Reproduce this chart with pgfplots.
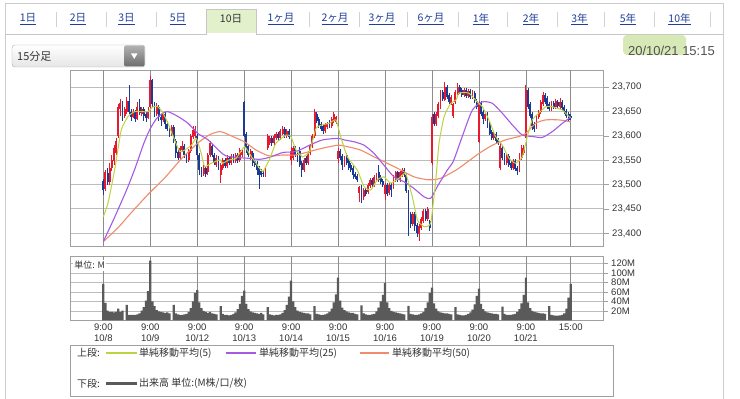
\documentclass[border=0pt]{standalone}
\usepackage{pgfplots}
\pgfplotsset{compat=1.18}
\usepackage{pgfplotstable}
\usepackage{fontspec}
\setmainfont{Liberation Sans}
\newfontfamily\jp{Noto Sans CJK JP}

\definecolor{upred}{HTML}{E8192C}
\definecolor{dnblue}{HTML}{1B3A93}
\definecolor{maA}{HTML}{BCD442}
\definecolor{maB}{HTML}{A659E6}
\definecolor{maC}{HTML}{F08C6C}
\definecolor{volgray}{HTML}{5A5A5A}
\definecolor{hgrid}{HTML}{BDBDBD}
\definecolor{vgrid}{HTML}{8C8C8C}
\definecolor{framec}{HTML}{A0A0A0}
\definecolor{linkblue}{HTML}{1F3F99}
\definecolor{txt}{HTML}{333333}
\definecolor{hl}{HTML}{D6E9B6}

% x = 22*day + slot ; o h l c ; v = volume (M)
\pgfplotstableread{
x o h l c v
0 23508 23512 23478 23490 77
1 23492 23530 23486 23525 37
2 23525 23535 23500 23505 21
3 23505 23545 23500 23535 18
4 23535 23560 23528 23550 18
5 23548 23582 23540 23575 17
6 23565 23595 23560 23590 18
7 23600 23665 23595 23660 25
8 23655 23675 23640 23668 18
9 23668 23672 23630 23640 21
10 23640 23660 23636 23655 0
11 23650 23680 23645 23672 33
12 23672 23705 23645 23650 12
13 23650 23655 23630 23640 12
14 23640 23656 23636 23650 12
15 23650 23654 23628 23635 12
16 23635 23670 23632 23660 13
17 23660 23675 23644 23648 15
18 23645 23660 23640 23655 21
19 23655 23660 23630 23640 28
20 23645 23650 23628 23638 42
21 23638 23660 23634 23652 62
22 23660 23724 23655 23715 126
23 23715 23718 23660 23665 40
24 23665 23670 23638 23645 30
25 23645 23668 23640 23660 22
26 23660 23664 23630 23640 19
27 23640 23645 23620 23632 18
28 23632 23650 23628 23645 17
29 23645 23650 23615 23625 16
30 23625 23630 23610 23615 17
31 23615 23620 23598 23605 15
32 23605 23622 23600 23618 0
33 23618 23622 23585 23590 33
34 23590 23594 23555 23565 15
35 23568 23572 23550 23555 13
36 23555 23580 23550 23575 12
37 23572 23590 23568 23580 12
38 23580 23584 23555 23560 13
39 23560 23565 23545 23550 14
40 23550 23574 23546 23570 18
41 23570 23604 23566 23600 26
42 23598 23620 23594 23612 40
43 23600 23620 23596 23615 58
44 23600 23605 23550 23560 64
45 23560 23564 23520 23530 38
46 23532 23536 23516 23525 26
47 23522 23540 23518 23535 20
48 23535 23539 23515 23522 18
49 23525 23564 23520 23560 16
50 23560 23590 23556 23585 18
51 23580 23584 23556 23560 15
52 23560 23564 23540 23545 14
53 23540 23560 23536 23555 13
54 23555 23559 23530 23535 0
55 23520 23545 23503 23540 30
56 23535 23555 23530 23550 14
57 23550 23554 23534 23538 12
58 23538 23560 23534 23555 12
59 23555 23559 23540 23545 11
60 23545 23562 23540 23558 12
61 23558 23562 23544 23548 14
62 23548 23565 23544 23560 17
63 23560 23564 23545 23550 24
64 23550 23576 23546 23572 35
65 23560 23572 23556 23568 52
66 23670 23672 23598 23600 63
67 23605 23609 23565 23575 35
68 23580 23584 23556 23560 24
69 23555 23574 23551 23570 19
70 23565 23569 23538 23545 17
71 23548 23552 23536 23540 16
72 23545 23549 23520 23530 15
73 23535 23539 23492 23520 14
74 23528 23532 23516 23520 16
75 23525 23529 23515 23522 13
76 23520 23535 23515 23530 0
77 23575 23605 23571 23600 28
78 23585 23599 23581 23595 13
79 23595 23599 23580 23585 12
80 23585 23604 23581 23600 11
81 23595 23609 23591 23605 12
82 23605 23609 23590 23595 12
83 23595 23614 23591 23610 13
84 23605 23620 23601 23615 16
85 23615 23619 23596 23600 22
86 23600 23614 23596 23610 33
87 23610 23614 23594 23598 50
88 23550 23578 23540 23570 84
89 23555 23579 23551 23575 40
90 23575 23579 23556 23560 28
91 23565 23569 23546 23550 21
92 23570 23578 23536 23540 18
93 23545 23549 23516 23530 17
94 23530 23554 23526 23550 16
95 23555 23559 23541 23545 15
96 23545 23569 23541 23565 15
97 23565 23584 23561 23580 13
98 23580 23604 23576 23600 0
99 23600 23655 23596 23650 30
100 23645 23649 23626 23630 14
101 23635 23639 23616 23620 13
102 23625 23629 23611 23615 12
103 23620 23624 23605 23610 12
104 23610 23626 23606 23622 13
105 23618 23629 23614 23625 15
106 23628 23632 23616 23620 18
107 23620 23639 23616 23635 25
108 23630 23650 23626 23645 38
109 23628 23642 23624 23638 55
110 23552 23575 23545 23570 90
111 23570 23574 23551 23555 42
112 23558 23562 23530 23540 27
113 23540 23559 23536 23555 22
114 23560 23565 23541 23545 19
115 23548 23552 23531 23535 17
116 23540 23544 23526 23530 16
117 23535 23539 23512 23520 16
118 23522 23526 23511 23515 14
119 23518 23522 23506 23510 13
120 23482 23498 23465 23495 0
121 23495 23499 23462 23475 32
122 23475 23494 23468 23490 15
123 23490 23494 23476 23480 13
124 23485 23504 23481 23500 12
125 23498 23514 23494 23510 12
126 23510 23514 23496 23500 13
127 23500 23519 23496 23515 14
128 23510 23524 23506 23520 19
129 23525 23540 23506 23510 27
130 23515 23519 23501 23505 40
131 23508 23512 23496 23500 54
132 23480 23504 23468 23500 79
133 23500 23504 23476 23480 38
134 23482 23504 23478 23500 26
135 23500 23504 23475 23490 20
136 23495 23519 23491 23515 18
137 23510 23529 23506 23525 17
138 23525 23529 23506 23510 16
139 23510 23529 23506 23525 15
140 23520 23535 23516 23530 14
141 23530 23534 23516 23520 13
142 23520 23524 23482 23488 0
143 23485 23488 23395 23430 31
144 23440 23444 23410 23420 14
145 23420 23444 23416 23440 13
146 23440 23444 23405 23415 12
147 23418 23422 23392 23400 12
148 23398 23419 23385 23415 13
149 23410 23434 23406 23430 15
150 23425 23449 23421 23445 18
151 23445 23449 23426 23430 26
152 23430 23455 23426 23450 38
153 23425 23428 23405 23412 58
154 23545 23645 23540 23640 69
155 23645 23649 23621 23625 36
156 23625 23649 23621 23645 25
157 23640 23669 23636 23665 19
158 23660 23694 23656 23690 17
159 23690 23694 23671 23675 16
160 23675 23710 23671 23700 15
161 23700 23704 23676 23680 15
162 23685 23689 23666 23670 14
163 23668 23684 23664 23680 13
164 23640 23668 23636 23665 0
165 23670 23694 23666 23690 28
166 23685 23708 23681 23700 13
167 23700 23704 23686 23690 12
168 23695 23699 23681 23685 11
169 23685 23699 23681 23695 11
170 23695 23699 23678 23682 12
171 23682 23696 23678 23692 14
172 23692 23696 23676 23680 17
173 23680 23694 23676 23690 23
174 23688 23692 23668 23672 34
175 23672 23676 23656 23660 52
176 23588 23672 23585 23668 67
177 23668 23672 23641 23645 35
178 23650 23654 23625 23635 24
179 23635 23649 23631 23645 19
180 23645 23649 23616 23620 17
181 23625 23629 23601 23605 16
182 23608 23612 23591 23595 15
183 23595 23609 23591 23605 14
184 23605 23609 23586 23590 14
185 23592 23596 23581 23585 13
186 23535 23585 23530 23580 0
187 23575 23579 23551 23555 29
188 23560 23564 23541 23545 14
189 23545 23562 23541 23558 12
190 23558 23562 23536 23540 12
191 23545 23549 23531 23535 12
192 23535 23552 23531 23548 13
193 23548 23552 23528 23532 14
194 23535 23539 23520 23528 18
195 23530 23564 23526 23560 24
196 23555 23582 23551 23575 36
197 23565 23582 23561 23578 54
198 23600 23705 23595 23695 90
199 23695 23699 23656 23660 38
200 23665 23669 23636 23640 26
201 23645 23649 23612 23620 20
202 23625 23629 23608 23615 18
203 23618 23644 23614 23640 17
204 23638 23654 23634 23650 16
205 23650 23674 23646 23670 15
206 23665 23690 23661 23685 15
207 23685 23689 23666 23670 14
208 23678 23682 23656 23660 0
209 23665 23669 23651 23655 30
210 23655 23672 23651 23668 12
211 23668 23672 23656 23660 11
212 23660 23676 23656 23672 10
213 23670 23674 23658 23662 10
214 23660 23678 23656 23670 11
215 23670 23674 23654 23658 12
216 23660 23664 23646 23650 15
217 23652 23656 23636 23640 25
218 23645 23649 23628 23632 48
219 23640 23646 23632 23636 77
}\candles

\pgfplotstableread{
x y
0 23434
2.2 23462
5.3 23530
8.4 23612
11.6 23640
14.7 23650
17.8 23650
20.9 23650
23.3 23660
25.6 23660
28 23647
30.3 23626
33.4 23592
35.8 23568
38.1 23571
41.3 23581
43.6 23595
45.9 23564
47.5 23537
50.6 23544
54.7 23551
55.9 23544
59 23551
62.2 23554
66.1 23578
68.4 23564
71.6 23544
74.7 23527
77.8 23551
80.9 23585
85.6 23602
87.9 23599
90.3 23571
93.4 23557
96.6 23568
99.7 23616
102.8 23623
105.9 23626
109 23633
111.2 23599
114.4 23557
119 23530
122.2 23496
125.3 23489
128.4 23510
131.5 23516
134.7 23503
139.4 23516
141.7 23523
144.8 23475
147.2 23427
150.3 23414
153.4 23421
155.8 23510
157.3 23585
159.7 23640
162.8 23667
165.3 23674
166.6 23688
171.3 23688
175.2 23670
177.6 23660
180.7 23633
183.8 23599
187 23581
190.1 23554
193.2 23544
196.3 23557
198.7 23599
201 23633
204.1 23647
207.3 23660
210.4 23660
215.1 23653
218.2 23640
219 23638
}\maFive

\pgfplotstableread{
x y
0 23383
5 23430
11 23490
15 23535
19 23585
22 23615
25 23636
28 23647
30.3 23650
35 23640
39.7 23626
44.4 23605
49.1 23592
54.7 23568
57.5 23559
62.2 23556
68.4 23554
73.1 23552
77.8 23556
84.1 23566
90.3 23568
96.6 23581
102.8 23592
110 23595
112.8 23592
117.5 23588
122.2 23581
126.9 23564
131.5 23540
136.2 23516
140.9 23506
145.6 23492
150.3 23475
153.4 23472
156.5 23496
161.2 23530
164 23548
168.2 23599
172.9 23653
177.6 23670
182.3 23667
186.9 23647
191.6 23623
196.3 23602
201 23599
205.7 23597
210.4 23609
215.1 23626
218.2 23636
219 23638
}\maTwentyFive

\pgfplotstableread{
x y
0 23383
7 23412
13 23442
21 23480
29 23515
37 23555
45 23588
50 23603
54.7 23609
59 23602
66.1 23588
71.6 23571
77.8 23559
84.1 23561
90.3 23561
96.6 23568
102.8 23575
110 23581
114.4 23578
120.6 23571
126.9 23557
133.1 23544
139.4 23530
145.6 23516
151.9 23510
154.2 23510
158.1 23513
165.3 23530
169.8 23544
176 23564
182.3 23581
188.5 23592
194.8 23599
197.9 23605
202.6 23626
207.3 23633
213.5 23633
219 23629
}\maFifty

\pgfplotsset{
  candlewick/.style={only marks, mark=*, mark size=0pt, mark options={draw=none, fill=none}, forget plot,
    error bars/y dir=both, error bars/y explicit, error bars/error mark=none,
    error bars/error bar style={line width=0.8pt, draw=#1}},
  candlebody/.style={only marks, mark=*, mark size=0pt, mark options={draw=none, fill=none}, forget plot,
    error bars/y dir=both, error bars/y explicit, error bars/error mark=none,
    error bars/error bar style={line width=1.9pt, draw=#1}},
}

\begin{document}
\begin{tikzpicture}[x=1pt,y=1pt]
\path[use as bounding box] (0,0) rectangle (740,399);
\fill[white] (0,0) rectangle (740,399);

% outer frame and tab strip
\draw[gray!40] (5,-5) -- (5,396) -- (723,396) -- (723,-5);
\fill[hl!70] (207,366) rectangle (256,389);
\draw[gray!45] (5,365) -- (206.5,365) -- (206.5,389.5) -- (256.5,389.5) -- (256.5,365) -- (723,365);
\foreach \xx in {56,106,156,309,359,407,458,507,557,604,654,710}
  \draw[gray!35] (\xx,372) -- (\xx,387);
\foreach \xx/\lab in {28/1日,78/2日,126.5/3日,178/5日,281/1ヶ月,335/2ヶ月,382/3ヶ月,431/6ヶ月,481/1年,531/2年,579.5/3年,628/5年,679.5/10年}
  \node[font=\jp\fontsize{10.5}{12}\selectfont, text=linkblue, inner sep=0pt] at (\xx,380) {\underline{\lab}};
\node[font=\jp\fontsize{10.5}{12}\selectfont, text=txt, inner sep=0pt] at (231,380) {10日};

% dropdown
\shade[top color=white, bottom color=gray!20, rounded corners=3pt] (12,332) rectangle (145,354);
\draw[gray!65, rounded corners=3pt] (12,332) rectangle (145,354);
\shade[top color=gray!60, bottom color=gray!85!black, rounded corners=2pt] (124,332.5) rectangle (144.5,353.5);
\fill[white] (131,345.5) -- (137.5,345.5) -- (134.25,340) -- cycle;
\node[anchor=west, font=\jp\fontsize{11}{12}\selectfont, text=txt, inner sep=0pt] at (17,343) {15分足};

% timestamp
\fill[hl, rounded corners=4pt] (623,344) rectangle (686,364);
\node[anchor=east, font=\fontsize{13}{14}\selectfont, text=txt!85, inner sep=0pt] at (715,348.5) {20/10/21 15:15};

% ---------- price panel ----------
\begin{axis}[
  at={(70pt,153pt)}, anchor=south west, scale only axis,
  width=532.7pt, height=176pt,
  xmin=-15.6, xmax=234, ymin=23374, ymax=23735.5,
  axis line style={draw=framec},
  scaled y ticks=false,
  xtick=\empty,
  extra x ticks={0,22,44,66,88,110,132,154,176,198,219},
  extra x tick labels={},
  extra x tick style={grid=major, major tick length=0pt, major grid style={vgrid, line width=0.7pt}},
  ytick={23400,23450,23500,23550,23600,23650,23700},
  yticklabels={{23,400},{23,450},{23,500},{23,550},{23,600},{23,650},{23,700}},
  ytick pos=right, yticklabel pos=right,
  ymajorgrids, major grid style={hgrid, line width=1pt},
  tick align=outside, major tick length=6pt,
  tick style={draw=framec, line width=0.6pt},
  tick label style={font=\fontsize{9.5}{11}\selectfont, text=txt},
]
\addplot[restrict expr to domain={\thisrow{c}-\thisrow{o}}{0:10000}, candlewick=upred]
  table[x=x, y=o, y error plus expr={\thisrow{h}-\thisrow{o}}, y error minus expr={\thisrow{o}-\thisrow{l}}] {\candles};
\addplot[restrict expr to domain={\thisrow{c}-\thisrow{o}}{0:10000}, candlebody=upred]
  table[x=x, y expr={(\thisrow{o}+\thisrow{c})/2}, y error expr={max(abs(\thisrow{c}-\thisrow{o})/2,1.5)}] {\candles};
\addplot[restrict expr to domain={\thisrow{o}-\thisrow{c}}{0.01:10000}, candlewick=dnblue]
  table[x=x, y=o, y error plus expr={\thisrow{h}-\thisrow{o}}, y error minus expr={\thisrow{o}-\thisrow{l}}] {\candles};
\addplot[restrict expr to domain={\thisrow{o}-\thisrow{c}}{0.01:10000}, candlebody=dnblue]
  table[x=x, y expr={(\thisrow{o}+\thisrow{c})/2}, y error expr={max(abs(\thisrow{c}-\thisrow{o})/2,1.5)}] {\candles};
\addplot[maC, line width=1.1pt, mark=none, smooth, tension=0.4] table[x=x,y=y] {\maFifty};
\addplot[maB, line width=1.1pt, mark=none, smooth, tension=0.4] table[x=x,y=y] {\maTwentyFive};
\addplot[maA, line width=1.0pt, mark=none, smooth, tension=0.3] table[x=x,y=y] {\maFive};
\end{axis}

% ---------- volume panel ----------
\begin{axis}[
  at={(70pt,78.5pt)}, anchor=south west, scale only axis,
  width=532.7pt, height=64pt,
  xmin=-15.6, xmax=234, ymin=0, ymax=134.7,
  axis line style={draw=framec},
  xtick=\empty,
  extra x ticks={0,22,44,66,88,110,132,154,176,198,219},
  extra x tick labels={{9:00\\10/8},{9:00\\10/9},{9:00\\10/12},{9:00\\10/13},{9:00\\10/14},{9:00\\10/15},{9:00\\10/16},{9:00\\10/19},{9:00\\10/20},{9:00\\10/21},{15:00}},
  extra x tick style={grid=major, major tick length=0pt, major grid style={vgrid, line width=0.7pt},
    tick label style={align=center, font=\fontsize{9.5}{11}\selectfont, text=txt}},
  ytick={20,40,60,80,100,120},
  yticklabels={20M,40M,60M,80M,100M,120M},
  ytick pos=right, yticklabel pos=right,
  ymajorgrids, major grid style={hgrid, line width=0.8pt},
  tick align=outside, major tick length=5pt,
  tick style={draw=framec, line width=0.6pt},
  tick label style={font=\fontsize{9.5}{11}\selectfont, text=txt},
]
\addplot[ybar, bar width=1.05, fill=volgray, draw=none] table[x=x, y=v] {\candles};
\node[anchor=west, fill=white, inner sep=1pt, font=\jp\fontsize{9}{10}\selectfont, text=txt] at (rel axis cs:0.006,0.86) {単位: M};
\end{axis}

% ---------- legend ----------
\draw[gray!75, line width=0.8pt] (70.7,3) rectangle (613,54);
\node[anchor=west, font=\jp\fontsize{10}{12}\selectfont, text=txt, inner sep=0pt] at (77,46) {上段:};
\draw[maA, line width=1.3pt] (106,46) -- (137,46);
\node[anchor=west, font=\jp\fontsize{10}{12}\selectfont, text=txt, inner sep=0pt] at (139,46) {単純移動平均(5)};
\draw[maB, line width=1.3pt] (226,46) -- (256,46);
\node[anchor=west, font=\jp\fontsize{10}{12}\selectfont, text=txt, inner sep=0pt] at (259,46) {単純移動平均(25)};
\draw[maC, line width=1.3pt] (360,46) -- (389,46);
\node[anchor=west, font=\jp\fontsize{10}{12}\selectfont, text=txt, inner sep=0pt] at (392,46) {単純移動平均(50)};
\node[anchor=west, font=\jp\fontsize{10}{12}\selectfont, text=txt, inner sep=0pt] at (77,15.4) {下段:};
\draw[volgray, line width=3pt] (106,15.4) -- (137,15.4);
\node[anchor=west, font=\jp\fontsize{10}{12}\selectfont, text=txt, inner sep=0pt] at (139,15.4) {出来高 単位:(M株/口/枚)};
\end{tikzpicture}
\end{document}
